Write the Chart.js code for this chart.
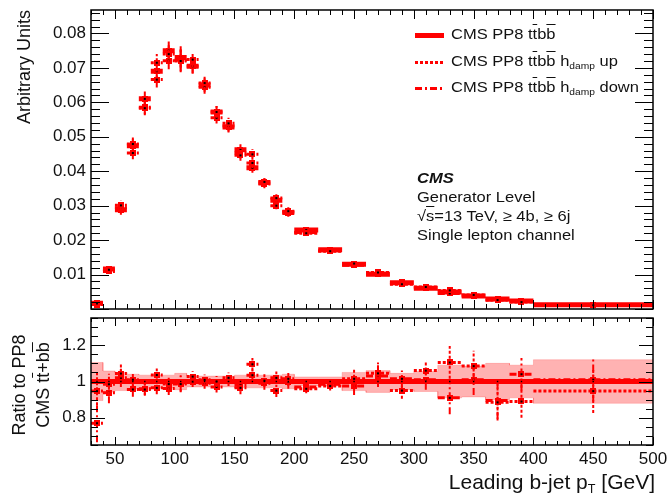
<!DOCTYPE html>
<html>
<head>
<meta charset="utf-8">
<script src="https://cdn.jsdelivr.net/npm/chart.js@4.4.1/dist/chart.umd.min.js"></script>
<style>
  body { margin: 0; background: #fff; }
  #wrap { position: relative; width: 671px; height: 503px; overflow: hidden; font-family: "Liberation Sans", Arial, sans-serif; color: #111; }
  #wrap canvas { position: absolute; left: 0; }
  .txt { position: absolute; white-space: nowrap; }
  .ov { text-decoration: overline; }
  .leg-row { position: absolute; left: 415px; height: 20px; }
  .leg-line { position: absolute; left: 0; width: 29px; }
  .leg-text { position: absolute; left: 36px; top: -1px; font-size: 15px; line-height: 20px; transform: scaleX(1.1); transform-origin: 0 50%; white-space: nowrap; }
  .leg-text sub { font-size: 0.62em; vertical-align: -0.35em; }
  .note { left: 417px; top: 168px; font-size: 15px; line-height: 19px; transform: scaleX(1.1); transform-origin: 0 0; }
</style>
</head>
<body>
<div id="wrap">
  <canvas id="mainChart" width="671" height="314" style="top:0"></canvas>
  <canvas id="ratioChart" width="671" height="190" style="top:313px"></canvas>

  <div class="leg-row" style="top:25px">
    <div class="leg-line" style="top:8px;height:5px;background:#f00"></div>
    <div class="leg-text">CMS PP8 t<span class="ov">t</span>b<span class="ov">b</span></div>
  </div>
  <div class="leg-row" style="top:52px">
    <div class="leg-line" style="top:9px;height:3px;background:repeating-linear-gradient(90deg,#f00 0 3px,transparent 3px 5px)"></div>
    <div class="leg-text">CMS PP8 t<span class="ov">t</span>b<span class="ov">b</span> h<sub>damp</sub> up</div>
  </div>
  <div class="leg-row" style="top:78px">
    <div class="leg-line" style="top:9px;height:3px;background:repeating-linear-gradient(90deg,#f00 0 7px,transparent 7px 10px,#f00 10px 12px,transparent 12px 15px)"></div>
    <div class="leg-text">CMS PP8 t<span class="ov">t</span>b<span class="ov">b</span> h<sub>damp</sub> down</div>
  </div>

  <div class="txt note">
    <div style="font-weight:bold;font-style:italic">CMS</div>
    <div>Generator Level</div>
    <div>√<span class="ov">s</span>=13 TeV, ≥ 4b, ≥ 6j</div>
    <div>Single lepton channel</div>
  </div>

  <div class="txt" style="left:15px;top:210px;width:200px;text-align:right;font-size:18px;line-height:18px;transform-origin:0 0;transform:rotate(-90deg)">Arbitrary Units</div>
  <div class="txt" style="left:7px;top:465px;width:160px;text-align:center;font-size:18px;line-height:24px;transform-origin:0 0;transform:rotate(-90deg)">Ratio to PP8<br>CMS t<span class="ov">t</span>+b<span class="ov">b</span></div>
  <div class="txt" style="right:16px;top:470px;font-size:21px;line-height:24px">Leading b-jet p<sub style="font-size:0.6em;vertical-align:-0.35em">T</sub> [GeV]</div>
</div>

<script>
// bins in GeV (10 GeV up to 200, 20 GeV up to 400, one last wide bin)
const binEdges = [30, 40, 50, 60, 70, 80, 90, 100, 110, 120, 130, 140, 150, 160, 170, 180, 190, 200,
                  220, 240, 260, 280, 300, 320, 340, 360, 380, 400, 500];

// normalised distributions
const nominal   = [0.0017, 0.0116, 0.0288, 0.0474, 0.0610, 0.0690, 0.0750, 0.0730, 0.0705, 0.0650, 0.0572, 0.0528, 0.0462, 0.0410,
                   0.0367, 0.0316, 0.0280, 0.0229, 0.0172, 0.0130, 0.0101, 0.0076, 0.0060, 0.0049, 0.0038, 0.0029, 0.0023, 0.0012];
const hdampUp   = [0.0016, 0.0114, 0.0301, 0.0479, 0.0583, 0.0715, 0.0740, 0.0720, 0.0724, 0.0656, 0.0572, 0.0539, 0.0446, 0.0449,
                   0.0369, 0.0322, 0.0284, 0.0220, 0.0168, 0.0132, 0.0106, 0.0072, 0.0064, 0.0054, 0.0041, 0.0026, 0.0020, 0.0011];
const hdampDown = [0.0013, 0.0109, 0.0294, 0.0453, 0.0586, 0.0666, 0.0721, 0.0723, 0.0705, 0.0644, 0.0555, 0.0531, 0.0453, 0.0424,
                   0.0363, 0.0300, 0.0280, 0.0222, 0.0169, 0.0127, 0.0104, 0.0077, 0.0061, 0.0045, 0.0038, 0.0026, 0.0024, 0.0012];

// ratios to the nominal sample
const ratioUp   = [0.947, 0.985, 1.044, 1.010, 0.956, 1.036, 0.986, 0.986, 1.027, 1.009, 1.000, 1.020, 0.965, 1.095,
                   1.005, 1.020, 1.015, 0.960, 0.975, 1.015, 1.045, 0.950, 1.060, 1.105, 1.085, 0.885, 0.890, 0.947];
const ratioDown = [0.770, 0.938, 1.020, 0.956, 0.960, 0.965, 0.961, 0.990, 1.000, 0.990, 0.970, 1.005, 0.980, 1.035,
                   0.990, 0.950, 1.000, 0.970, 0.985, 0.975, 1.030, 1.015, 1.010, 0.910, 1.010, 0.895, 1.040, 1.010];
// relative stat. uncertainty of the nominal sample (half width of the band)
const statBand  = [0.105, 0.058, 0.050, 0.040, 0.035, 0.035, 0.035, 0.045, 0.030, 0.030, 0.030, 0.030, 0.035, 0.035,
                   0.035, 0.035, 0.040, 0.025, 0.025, 0.050, 0.060, 0.045, 0.055, 0.090, 0.085, 0.100, 0.090, 0.120];

const xTickValues = [50, 100, 150, 200, 250, 300, 350, 400, 450, 500];
const yTickValues = [0.01, 0.02, 0.03, 0.04, 0.05, 0.06, 0.07, 0.08];
const ratioTickValues = [0.8, 1, 1.2];

const RED = '#ff0000';
const FONT = 'Liberation Sans, Arial, sans-serif';
const lineStyles = {
    nominal: { borderDash: [], borderWidth: 5, errWidth: 2 },
    up: { borderDash: [3, 2], borderWidth: 3, errWidth: 2 },
    down: { borderDash: [7, 3, 2, 3], borderWidth: 3, errWidth: 2 }
};

const binCentre = i => (binEdges[i] + binEdges[i + 1]) / 2;

// one horizontal segment per bin, broken between bins
function stepPoints(vals) {
    const pts = [];
    vals.forEach((v, i) => {
        pts.push({ x: binEdges[i], y: v }, { x: binEdges[i + 1], y: v }, { x: binEdges[i + 1], y: null });
    });
    return pts;
}

// vertical error bar at each bin centre
function errPoints(vals, errs) {
    const pts = [];
    vals.forEach((v, i) => {
        const c = binCentre(i);
        pts.push({ x: c, y: v - errs[i] }, { x: c, y: v + errs[i] }, { x: c, y: null });
    });
    return pts;
}

const centrePoints = vals => vals.map((v, i) => ({ x: binCentre(i), y: v }));

// continuous stepped outline of the uncertainty band
function bandPoints(sign) {
    const pts = [];
    statBand.forEach((h, i) => {
        pts.push({ x: binEdges[i], y: 1 + sign * h }, { x: binEdges[i + 1], y: 1 + sign * h });
    });
    return pts;
}

// small red square with a black centre, used as marker
const marker = document.createElement('canvas');
marker.width = 6; marker.height = 6;
{
    const m = marker.getContext('2d');
    m.fillStyle = RED; m.fillRect(0, 0, 6, 6);
    m.fillStyle = '#000'; m.fillRect(2, 2, 2, 2);
}

function seriesDatasets(vals, errs, style, order) {
    const s = lineStyles[style];
    return [
        { data: stepPoints(vals), borderColor: RED, borderWidth: s.borderWidth, borderDash: s.borderDash,
          pointRadius: 0, fill: false, order: order },
        { data: errPoints(vals, errs), borderColor: RED, borderWidth: s.errWidth, borderDash: s.borderDash,
          pointRadius: 0, fill: false, order: order },
        { data: centrePoints(vals), showLine: false, pointStyle: marker, pointRadius: 3, order: order - 1 }
    ];
}

// ROOT style frame with inward ticks on all four sides
const rootFrame = {
    id: 'rootFrame',
    afterDatasetsDraw(chart, args, o) {
        const { ctx, chartArea: a, scales: { x, y } } = chart;
        const isMajor = (v, major) => Math.abs(v / major - Math.round(v / major)) < 1e-6;
        ctx.save();
        ctx.strokeStyle = '#000';
        ctx.lineWidth = 1;
        ctx.beginPath();
        for (let k = Math.ceil(x.min / o.xMinor - 1e-9); k * o.xMinor <= x.max + 1e-9; k++) {
            const v = k * o.xMinor;
            const len = isMajor(v, o.xMajor) ? o.xLen[0] : o.xLen[1];
            const px = Math.round(x.getPixelForValue(v)) + 0.5;
            ctx.moveTo(px, a.bottom); ctx.lineTo(px, a.bottom - len);
            ctx.moveTo(px, a.top); ctx.lineTo(px, a.top + len);
        }
        for (let k = Math.ceil(y.min / o.yMinor - 1e-9); k * o.yMinor <= y.max + 1e-9; k++) {
            const v = k * o.yMinor;
            const len = isMajor(v, o.yMajor) ? o.yLen[0] : o.yLen[1];
            const py = Math.round(y.getPixelForValue(v)) + 0.5;
            ctx.moveTo(a.left, py); ctx.lineTo(a.left + len, py);
            ctx.moveTo(a.right, py); ctx.lineTo(a.right - len, py);
        }
        ctx.stroke();
        ctx.lineWidth = 1.5;
        ctx.strokeRect(a.left, a.top, a.right - a.left, a.bottom - a.top);
        ctx.restore();
    }
};

const tickFont = { family: FONT, size: 17 };

// scales keep a fixed size and do not push the plot area for their labels
function noOverhang(s) {
    s.paddingTop = 0; s.paddingBottom = 0; s.paddingLeft = 0; s.paddingRight = 0;
}

function yScale(min, max, values, fmt) {
    return {
        type: 'linear', min: min, max: max,
        grid: { display: false, drawTicks: false }, border: { display: false },
        afterBuildTicks: s => { s.ticks = values.map(v => ({ value: v })); },
        afterFit: s => { s.width = 91; noOverhang(s); },
        ticks: { font: tickFont, color: '#111', padding: 5, callback: fmt }
    };
}

const commonOpts = {
    responsive: false,
    animation: false,
    events: [],
    plugins: { legend: { display: false }, tooltip: { enabled: false } },
    elements: { line: { tension: 0, spanGaps: false } }
};

new Chart(document.getElementById('mainChart'), {
    type: 'line',
    data: {
        datasets: [
            ...seriesDatasets(hdampUp, hdampUp.map((v, i) => v * statBand[i]), 'up', 2),
            ...seriesDatasets(hdampDown, hdampDown.map((v, i) => v * statBand[i]), 'down', 4),
            ...seriesDatasets(nominal, nominal.map((v, i) => v * statBand[i]), 'nominal', 6)
        ]
    },
    options: {
        ...commonOpts,
        layout: { padding: { left: 0, right: 18, top: 10, bottom: 2 } },
        scales: {
            x: { type: 'linear', min: 30, max: 500, display: false },
            y: yScale(0, 0.0868, yTickValues, v => v.toFixed(2))
        },
        plugins: {
            ...commonOpts.plugins,
            rootFrame: { xMajor: 50, xMinor: 10, xLen: [9, 5], yMajor: 0.01, yMinor: 0.002, yLen: [18, 9] }
        }
    },
    plugins: [rootFrame]
});

new Chart(document.getElementById('ratioChart'), {
    type: 'line',
    data: {
        datasets: [
            { data: bandPoints(1), borderColor: 'rgba(255,0,0,0.18)', borderWidth: 1, pointRadius: 0, fill: false, order: 20 },
            { data: bandPoints(-1), borderColor: 'rgba(255,0,0,0.18)', borderWidth: 1, pointRadius: 0,
              fill: { target: 0 }, backgroundColor: 'rgba(255,0,0,0.3)', order: 20 },
            ...seriesDatasets(ratioUp, statBand, 'up', 2),
            ...seriesDatasets(ratioDown, statBand, 'down', 4),
            { data: stepPoints(statBand.map(() => 1)), borderColor: RED, borderWidth: 5, pointRadius: 0, fill: false, order: 8 },
            { data: centrePoints(statBand.map(() => 1)), showLine: false, pointStyle: 'rect', pointRadius: 1,
              backgroundColor: '#000', borderWidth: 0, order: 0 }
        ]
    },
    options: {
        ...commonOpts,
        layout: { padding: { left: 0, right: 18, top: 2, bottom: 0 } },
        scales: {
            x: {
                type: 'linear', min: 30, max: 500,
                grid: { display: false, drawTicks: false }, border: { display: false },
                afterBuildTicks: s => { s.ticks = xTickValues.map(v => ({ value: v })); },
                afterFit: s => { s.height = 58; noOverhang(s); },
                ticks: { font: tickFont, color: '#111', padding: 4, maxRotation: 0, autoSkip: false }
            },
            y: yScale(0.65, 1.35, ratioTickValues, v => (v === 1 ? '1' : v.toFixed(1)))
        },
        plugins: {
            ...commonOpts.plugins,
            rootFrame: { xMajor: 50, xMinor: 10, xLen: [8, 4], yMajor: 0.2, yMinor: 0.05, yLen: [14, 7] }
        }
    },
    plugins: [rootFrame]
});
</script>
</body>
</html>
